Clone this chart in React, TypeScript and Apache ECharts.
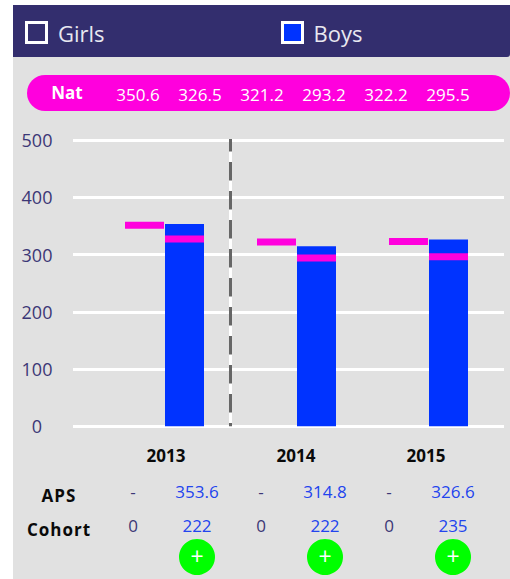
import React, { useEffect, useRef } from "react";
import * as echarts from "echarts";

const years = [2013, 2014, 2015];
const boysAps = [353.6, 314.8, 326.6];
const natGirls = [350.6, 321.2, 322.2];
const natBoys = [326.5, 293.2, 295.5];
const natRow = ["350.6", "326.5", "321.2", "293.2", "322.2", "295.5"];
const natRowX = [138, 200, 262, 324, 386, 448];
const apsGirlsRow = ["-", "-", "-"];
const apsBoysRow = ["353.6", "314.8", "326.6"];
const cohortGirls = ["0", "0", "0"];
const cohortBoys = ["222", "222", "235"];
const yearX = [166, 296, 426];
const girlsColX = [133, 261, 389];
const boysColX = [197, 325, 453];
const yTicks = { min: 0, max: 500, interval: 100 };
const divider = [[2013.5, 502.2, 0]];
const rowHeads = ["APS", "Cohort"];

const NAVY = "#332e6e";
const BLUE = "#0033ff";
const MAGENTA = "#ff00dd";
const INK = "#3c3776";
const VAL = "#2244ee";
const FF = '"Open Sans"';

const t = (text: string, x: number, y: number, size: number, fill: string, bold = false, align = "center") => ({
  type: "text",
  z: 5,
  style: {
    text,
    x,
    y,
    fill,
    textAlign: align,
    textVerticalAlign: "middle",
    font: `${bold ? "bold " : ""}${size}px ${FF}`,
  },
});

export default function App() {
  const ref = useRef<HTMLDivElement>(null);
  useEffect(() => {
    document.body.style.margin = "0";
    const chart = echarts.init(ref.current!, undefined, { renderer: "svg" });
    chart.setOption({
      animation: false,
      textStyle: { fontFamily: FF },
      grid: { left: 73, right: 6, top: 140.25, bottom: 152.75 },
      xAxis: {
        type: "value",
        min: 2012.30682,
        max: 2015.57197,
        show: false,
        splitLine: { show: false },
      },
      yAxis: {
        type: "value",
        ...yTicks,
        axisLine: { show: false },
        axisTick: { show: false },
        axisLabel: { color: INK, fontSize: 18, fontFamily: FF, align: "center", margin: 36 },
        splitLine: { show: true, lineStyle: { color: "#ffffff", width: 3 } },
      },
      graphic: [
        { type: "rect", z: -2, shape: { x: 13, y: 5, width: 497, height: 574 }, style: { fill: "#e1e1e1" } },
        { type: "rect", z: -1, shape: { x: 13, y: 5, width: 497, height: 52, r: [0, 0, 3, 0] }, style: { fill: NAVY } },
        { type: "rect", z: 4, shape: { x: 26.5, y: 22.5, width: 20, height: 20 }, style: { fill: "transparent", stroke: "#fff", lineWidth: 3 } },
        t("Girls", 58, 33, 22, "#e8e8f0", false, "left"),
        { type: "rect", z: 4, shape: { x: 282.5, y: 22.5, width: 20, height: 20 }, style: { fill: BLUE, stroke: "#fff", lineWidth: 3 } },
        t("Boys", 313.5, 33, 22, "#e8e8f0", false, "left"),
        { type: "rect", z: -1, shape: { x: 27, y: 75, width: 483, height: 36, r: 18 }, style: { fill: MAGENTA } },
        t("Nat", 67, 92.5, 17, "#fff", true),
        ...natRow.map((v, i) => t(v, natRowX[i], 94, 17, "#fff")),
        ...years.map((y, i) => t(String(y), yearX[i], 455, 17, "#0a0a0a", true)),
        t(rowHeads[0], 59, 495, 17, "#0a0a0a", true),
        t(rowHeads[1], 59, 529, 17, "#0a0a0a", true),
        ...apsGirlsRow.map((v, i) => t(v, girlsColX[i], 491, 17, INK)),
        ...apsBoysRow.map((v, i) => t(v, boysColX[i], 491, 17, VAL)),
        ...cohortGirls.map((v, i) => t(v, girlsColX[i], 525, 17, INK)),
        ...cohortBoys.map((v, i) => t(v, boysColX[i], 525, 17, VAL)),
        ...boysColX.map((x) => ({ type: "circle", z: 4, shape: { cx: x, cy: 557, r: 18 }, style: { fill: "#00ff00" } })),
        ...boysColX.map((x) => t("+", x, 556, 23, "#fff")),
      ],
      series: [
        {
          type: "bar",
          name: "Girls",
          barWidth: 39,
          barGap: "2.564%",
          data: years.map((y) => [y, "-"]),
          itemStyle: { color: "transparent" },
        },
        {
          type: "bar",
          name: "Boys",
          barWidth: 39,
          data: years.map((y, i) => [y, boysAps[i]]),
          itemStyle: { color: BLUE },
        },
        {
          type: "scatter",
          name: "Nat Girls",
          symbol: "rect",
          symbolSize: [39, 7],
          symbolOffset: [-20, -0.5],
          z: 4,
          data: years.map((y, i) => [y, natGirls[i]]),
          itemStyle: { color: MAGENTA, opacity: 1 },
        },
        {
          type: "scatter",
          name: "Nat Boys",
          symbol: "rect",
          symbolSize: [39, 7],
          symbolOffset: [20, -0.5],
          z: 4,
          data: years.map((y, i) => [y, natBoys[i]]),
          itemStyle: { color: MAGENTA, opacity: 1 },
        },
        {
          type: "custom",
          name: "Divider",
          z: 3,
          clip: false,
          data: divider,
          encode: { x: 0, y: [1, 2] },
          renderItem: (_: any, api: any) => {
            const a = api.coord([api.value(0), api.value(1)]);
            const b = api.coord([api.value(0), api.value(2)]);
            const shape = { x1: a[0], y1: a[1], x2: b[0], y2: b[1] };
            return {
              type: "group",
              children: [
                { type: "line", shape, style: { stroke: "#ffffff", lineWidth: 3 } },
                { type: "line", shape, style: { stroke: "#666666", lineWidth: 3, lineDash: [18.5, 10.5], lineDashOffset: 6 } },
              ],
            };
          },
        },
      ],
    });
    // Row heads are letter-spaced in the reference; zrender has no such text style.
    ref.current!.querySelectorAll("text").forEach((el) => {
      if (rowHeads.includes(el.textContent || "")) el.style.letterSpacing = "1px";
    });
    return () => chart.dispose();
  }, []);
  return <div ref={ref} style={{ width: 510, height: 579 }} />;
}
